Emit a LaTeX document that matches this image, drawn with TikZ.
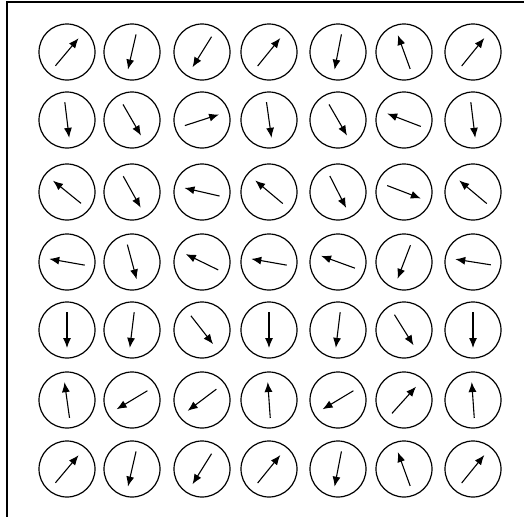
\documentclass[tikz,border=0pt]{standalone}
\usetikzlibrary{arrows.meta}
\begin{document}
\begin{tikzpicture}[x=1pt,y=-1pt,
  spin/.style={circle,draw,line width=1.2pt,minimum size=56pt,inner sep=0pt},
  arr/.style={line width=1.1pt,-{Latex[length=10pt,width=8pt]}}]
\useasboundingbox (0,0) rectangle (524,517);
\draw[line width=1.4pt] (524,2) -- (7,2) -- (7,517);
\def\xs{{67,132,202,269,338,404,473}}
\def\ys{{52,120,192,262,330,400,469}}
\foreach \row/\angs in {
  1/{50,-103,-122,51,-101,110,51},
  2/{-83,-60,18,-82,-60,159,-83},
  3/{141,-61,167,140,-63,-21,140},
  4/{170,-75,154,170,160,-111,171},
  5/{-90,-97,-52,-90,-97,-58,-90},
  6/{98,-149,-143,94,-149,48,94},
  7/{50,-103,-122,51,-101,110,51}} {
  \foreach \a [count=\col] in \angs {
    \pgfmathsetmacro{\cx}{\xs[\col-1]}
    \pgfmathsetmacro{\cy}{\ys[\row-1]}
    \node[spin] (s\row-\col) at (\cx,\cy) {};
    \draw[arr] ([shift={(-\a:-18)}]s\row-\col.center) -- ([shift={(-\a:18)}]s\row-\col.center);
  }
}
\end{tikzpicture}
\end{document}
